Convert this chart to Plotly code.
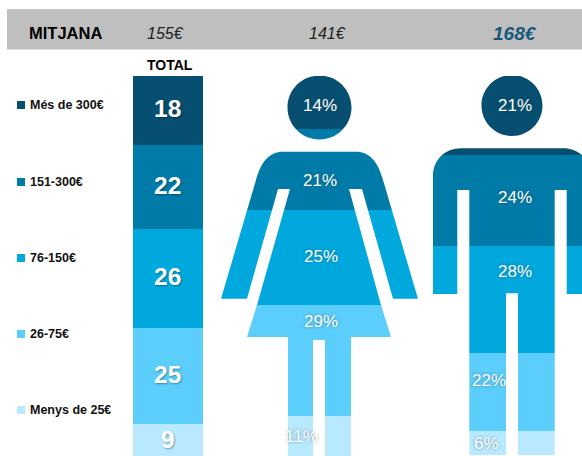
import plotly.graph_objects as go

W, H = 582, 456
FONT = "Liberation Sans"

# ---- data ----
bands = ["Més de 300€", "151-300€", "76-150€", "26-75€", "Menys de 25€"]
total_values = [18, 22, 26, 25, 9]
woman_values = [14, 21, 25, 29, 11]
man_labels = [21, 24, 28, 22, 6]
man_heights = [20.8, 23.8, 27.8, 20.4, 6.5]
group_names = ["TOTAL", "Dona", "Home"]
averages = ["155€", "141€", "168€"]
header_title = "MITJANA"

# ---- styles and layout ----
colors = ["#064F70", "#007BA7", "#00A8DE", "#5BCEFB", "#B8E9FF"]
group_x = [168, 320, 512]
group_w = [70, 198, 158]
SCALE = 3.82  # px per percentage point
TOP = 76      # px of the 0 line
legend_y = [105, 182, 258, 334, 410]
avg_x = [165, 327, 515]
woman_label_pos = [(320, 105), (320, 180), (321, 256), (321, 321), (301, 436)]
man_label_pos = [(515, 105), (515, 197), (515, 271), (489, 380), (486, 443)]


def px(x, y):
    return f"{x / W:.5f} {1 - y / H:.5f}"


def path(cmds):
    out = []
    for c, pts in cmds:
        out.append(c + " " + " ".join(px(*p) for p in pts))
    return " ".join(out)


def circle(cx, cy, r):
    k = 0.5523 * r
    return [
        ("M", [(cx, cy - r)]),
        ("C", [(cx + k, cy - r), (cx + r, cy - k), (cx + r, cy)]),
        ("C", [(cx + r, cy + k), (cx + k, cy + r), (cx, cy + r)]),
        ("C", [(cx - k, cy + r), (cx - r, cy + k), (cx - r, cy)]),
        ("C", [(cx - r, cy - k), (cx - k, cy - r), (cx, cy - r)]),
        ("Z", []),
    ]


def rect(x0, y0, x1, y1):
    return [("M", [(x0, y0)]), ("L", [(x1, y0)]), ("L", [(x1, y1)]), ("L", [(x0, y1)]), ("Z", [])]


woman_body = [
    ("M", [(283, 151.7)]), ("L", [(356, 151.7)]),
    ("C", [(370, 151.7), (378, 162), (383, 180)]),
    ("L", [(418, 298.7)]), ("L", [(393, 298.7)]), ("L", [(362, 189)]), ("L", [(349, 189)]),
    ("L", [(381, 305)]), ("L", [(391, 337)]), ("L", [(351, 337)]), ("L", [(351, 470)]),
    ("L", [(325, 470)]), ("L", [(325, 340)]), ("L", [(313, 340)]), ("L", [(313, 470)]),
    ("L", [(288, 470)]), ("L", [(288, 337)]), ("L", [(247, 337)]), ("L", [(257, 305)]),
    ("L", [(290, 189)]), ("L", [(278, 189)]), ("L", [(247, 298.7)]), ("L", [(221, 298.7)]),
    ("L", [(256, 180)]), ("C", [(261, 162), (269, 151.7), (283, 151.7)]), ("Z", []),
]
man_body = [
    ("M", [(461, 148.3)]), ("L", [(563, 148.3)]),
    ("C", [(579, 148.3), (591, 160), (591, 176)]),
    ("L", [(591, 294)]), ("L", [(566.7, 294)]), ("L", [(566.7, 190)]), ("L", [(554.7, 190)]),
    ("L", [(554.7, 470)]), ("L", [(518, 470)]), ("L", [(518, 293.3)]), ("L", [(506, 293.3)]),
    ("L", [(506, 470)]), ("L", [(469.3, 470)]), ("L", [(469.3, 190)]), ("L", [(457.3, 190)]),
    ("L", [(457.3, 294)]), ("L", [(433, 294)]), ("L", [(433, 176)]),
    ("C", [(433, 160), (445, 148.3), (461, 148.3)]), ("Z", []),
]
woman_mask = path(rect(214, 70, 425, 470) + circle(319.5, 107.5, 32) + woman_body)
man_mask = path(rect(426, 70, 600, 470) + circle(512, 105.5, 30.5) + man_body)

fig = go.Figure()
for i, band in enumerate(bands):
    fig.add_trace(go.Bar(
        x=group_x,
        y=[total_values[i], woman_values[i], man_heights[i]],
        width=group_w,
        name=band,
        marker=dict(color=colors[i], line=dict(width=0)),
        showlegend=False,
    ))

shapes = [
    dict(type="rect", xref="paper", yref="paper", x0=7 / W, x1=1, y0=1 - 49.5 / H, y1=1 - 9 / H,
         fillcolor="#BFBFBF", line_width=0, layer="below"),
    dict(type="path", xref="paper", yref="paper", path=woman_mask, fillrule="evenodd",
         fillcolor="white", line_width=0, layer="above"),
    dict(type="path", xref="paper", yref="paper", path=man_mask, fillrule="evenodd",
         fillcolor="white", line_width=0, layer="above"),
]

annotations = []


def label(x, y, text, size, color="black", bold=False, italic=False, anchor="center", shadow=None):
    font = dict(family=FONT, size=size, color=color, weight="bold" if bold else "normal",
                style="italic" if italic else "normal")
    if shadow:
        font["shadow"] = shadow
    annotations.append(dict(xref="paper", yref="paper", x=x / W, y=1 - y / H, text=text,
                            showarrow=False, xanchor=anchor, yanchor="middle", font=font,
                            borderpad=0, borderwidth=0))


label(65.5, 32.5, header_title, 16.5, bold=True)
label(avg_x[0], 33, averages[0], 16, italic=True, color="#222222")
label(avg_x[1], 33, averages[1], 16, italic=True, color="#222222")
label(avg_x[2], 33, averages[2], 19, bold=True, italic=True, color="#17597C")
label(170, 65, group_names[0], 14, bold=True)

for i, band in enumerate(bands):
    shapes.append(dict(type="rect", xref="paper", yref="paper",
                       x0=17 / W, x1=25 / W, y0=1 - (legend_y[i] + 4) / H, y1=1 - (legend_y[i] - 4) / H,
                       fillcolor=colors[i], line_width=0))
    label(29.5, legend_y[i], band, 12.5, bold=True, anchor="left", color="#111111")

strong = "1px 1px 2px rgba(0,0,0,0.35)"
cum = 0
for v in total_values:
    label(168, TOP + SCALE * (cum + v / 2) - 1.5, str(v), 24.5, color="white", bold=True, shadow=strong)
    cum += v

soft = "0px 0px 3px rgba(40,70,90,0.55)"
for (x, y), v in zip(woman_label_pos, woman_values):
    label(x, y, f"{v}%", 17, color="white", shadow=soft)
for (x, y), v in zip(man_label_pos, man_labels):
    label(x, y, f"{v}%", 17, color="white", shadow=soft)

fig.update_layout(
    width=W, height=H, margin=dict(l=0, r=0, t=0, b=0),
    paper_bgcolor="white", plot_bgcolor="white",
    barmode="stack", bargap=0,
    xaxis=dict(range=[0, W], visible=False, fixedrange=True),
    yaxis=dict(range=[(H - TOP) / SCALE, -TOP / SCALE], visible=False, fixedrange=True),
    shapes=shapes, annotations=annotations,
)
fig.write_html("out.html", config={"displayModeBar": False},
               post_script="document.body.style.margin='0';document.body.style.overflow='hidden';")
